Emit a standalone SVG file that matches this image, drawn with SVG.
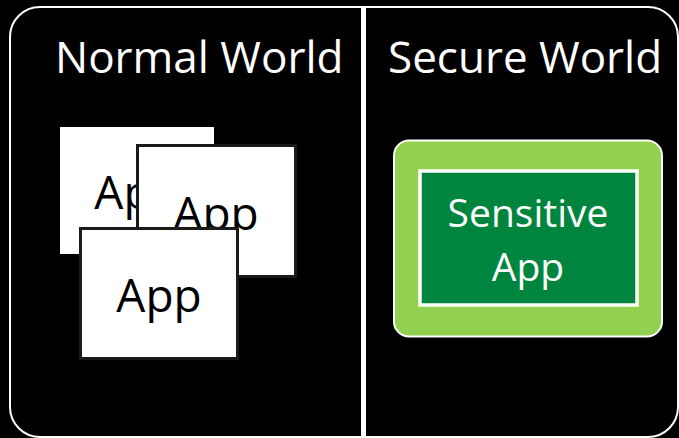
<svg xmlns="http://www.w3.org/2000/svg" width="679" height="438" viewBox="0 0 679 438">
<style>
text{font-family:"Open Sans","Noto Sans","Liberation Sans",sans-serif}
.title{font-size:44px;fill:#fff}
.app{fill:#fff;stroke:#1a1a1a;stroke-width:3}
.appt{font-size:46px;fill:#000;text-anchor:middle}
.sens{font-size:39px;fill:#fff;text-anchor:middle}
</style>
<rect width="679" height="438" fill="#000"/>
<g id="frame">
<rect x="10" y="7" width="668" height="430" rx="30" fill="#000" stroke="#fff" stroke-width="2"/>
<line x1="363.5" y1="7" x2="363.5" y2="438" stroke="#fff" stroke-width="5"/>
</g>
<g id="normal-world">
<text class="title" x="55" y="73">Normal World</text>
</g>
<g id="secure-world">
<text class="title" x="388" y="73">Secure World</text>
</g>
<g id="app1">
<rect x="60" y="127" width="154" height="127" fill="#fff"/>
<text class="appt" x="137" y="209">App</text>
</g>
<g id="app2">
<rect class="app" x="137.5" y="145.5" width="158" height="131"/>
<text class="appt" x="216" y="230">App</text>
</g>
<g id="app3">
<rect class="app" x="80.5" y="228.5" width="157" height="130"/>
<text class="appt" x="159" y="312">App</text>
</g>
<g id="sensitive-app">
<rect x="394" y="140.5" width="268" height="196" rx="15" fill="#92D050" stroke="#fff" stroke-width="2"/>
<rect x="420" y="171" width="217" height="134" fill="#00853E" stroke="#fff" stroke-width="3.5"/>
<text class="sens" x="528" y="227">Sensitive</text>
<text class="sens" x="528" y="281">App</text>
</g>
<g id="connectors"/>
</svg>
